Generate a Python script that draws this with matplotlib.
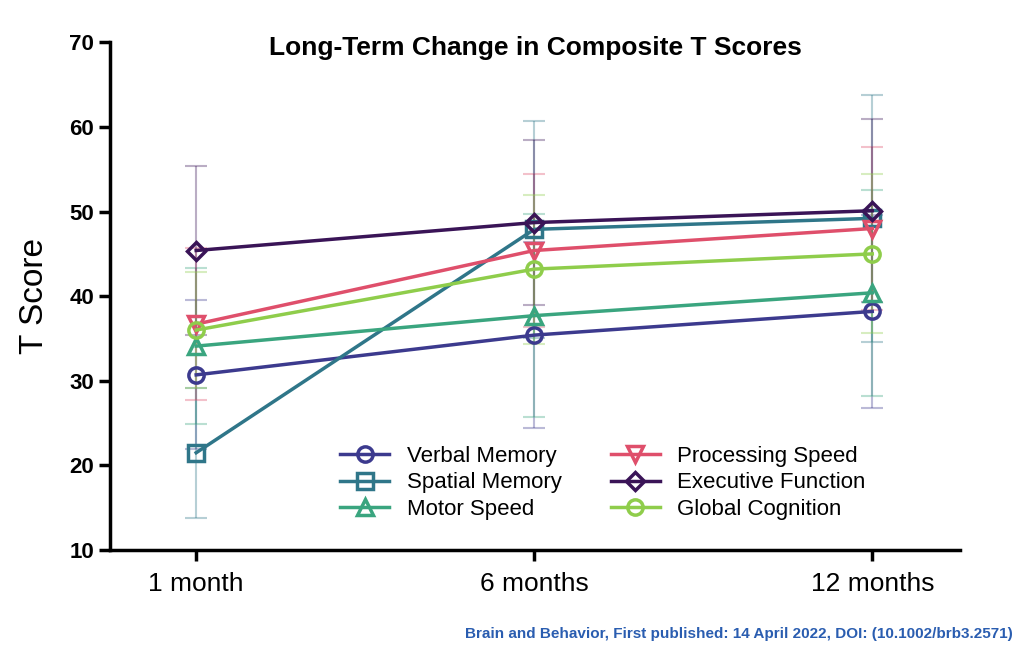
import matplotlib
matplotlib.use("Agg")
import matplotlib.pyplot as plt

plt.rcParams['font.family'] = ['Liberation Sans', 'DejaVu Sans']

timepoints = ["1 month", "6 months", "12 months"]
series = ["Verbal Memory", "Spatial Memory", "Motor Speed",
          "Processing Speed", "Executive Function", "Global Cognition"]
means = {
    "Verbal Memory": [30.7, 35.4, 38.2],
    "Spatial Memory": [21.5, 47.9, 49.2],
    "Motor Speed": [34.1, 37.7, 40.4],
    "Processing Speed": [36.7, 45.4, 48.0],
    "Executive Function": [45.4, 48.7, 50.1],
    "Global Cognition": [36.0, 43.2, 45.0],
}
sds = {
    "Verbal Memory": [8.8, 11.0, 11.4],
    "Spatial Memory": [7.7, 12.8, 14.6],
    "Motor Speed": [9.2, 12.0, 12.2],
    "Processing Speed": [9.0, 9.0, 9.6],
    "Executive Function": [10.0, 9.8, 10.8],
    "Global Cognition": [6.8, 8.8, 9.4],
}
colors = {
    "Verbal Memory": "#3c3a8e",
    "Spatial Memory": "#2f7689",
    "Motor Speed": "#3aa57f",
    "Processing Speed": "#df4f6b",
    "Executive Function": "#3a1457",
    "Global Cognition": "#8fcd4b",
}
markers = {
    "Verbal Memory": "o", "Spatial Memory": "s", "Motor Speed": "^",
    "Processing Speed": "v", "Executive Function": "D", "Global Cognition": "o",
}

fig = plt.figure(figsize=(10.28, 6.68), dpi=100)
ax = fig.add_axes([0.107, 0.1766, 0.827, 0.760])
x = list(range(len(timepoints)))
for s in series:
    c = colors[s]
    ax.errorbar(x, means[s], yerr=sds[s], fmt="none", ecolor=c, alpha=0.35,
                elinewidth=1.5, capsize=8, capthick=1.5, zorder=1)
    ax.plot(x, means[s], color=c, lw=2.5, marker=markers[s], ms=11 if markers[s] != "D" else 9,
            mfc="none", mew=2.5, label=s, zorder=3)

ax.set_xlim(-0.255, 2.26)
ax.set_ylim(10, 70)
ax.set_yticks(range(10, 71, 10))
ax.set_xticks(x)
ax.set_xticklabels(timepoints, fontsize=19)
ax.tick_params(axis="y", labelsize=16, width=2.5, length=8)
ax.tick_params(axis="x", width=2.5, length=8, pad=8)
for lab in ax.get_yticklabels():
    lab.set_fontweight("bold")
for sp in ["top", "right"]:
    ax.spines[sp].set_visible(False)
for sp in ["left", "bottom"]:
    ax.spines[sp].set_linewidth(2.5)
ax.set_ylabel("T Score", fontsize=24, labelpad=14)
ax.set_title("Long-Term Change in Composite T Scores", fontsize=19, fontweight="bold", pad=0, y=0.975)
ax.legend(ncol=2, loc="lower center", bbox_to_anchor=(0.58, 0.02), frameon=False,
          fontsize=16, columnspacing=2.2, handlelength=2.2, labelspacing=0.25)
fig.text(0.985, 0.045, "Brain and Behavior, First published: 14 April 2022, DOI: (10.1002/brb3.2571)",
         ha="right", fontsize=11, color="#2a5db0", fontweight="bold")
fig.savefig("out.png", dpi=100)
